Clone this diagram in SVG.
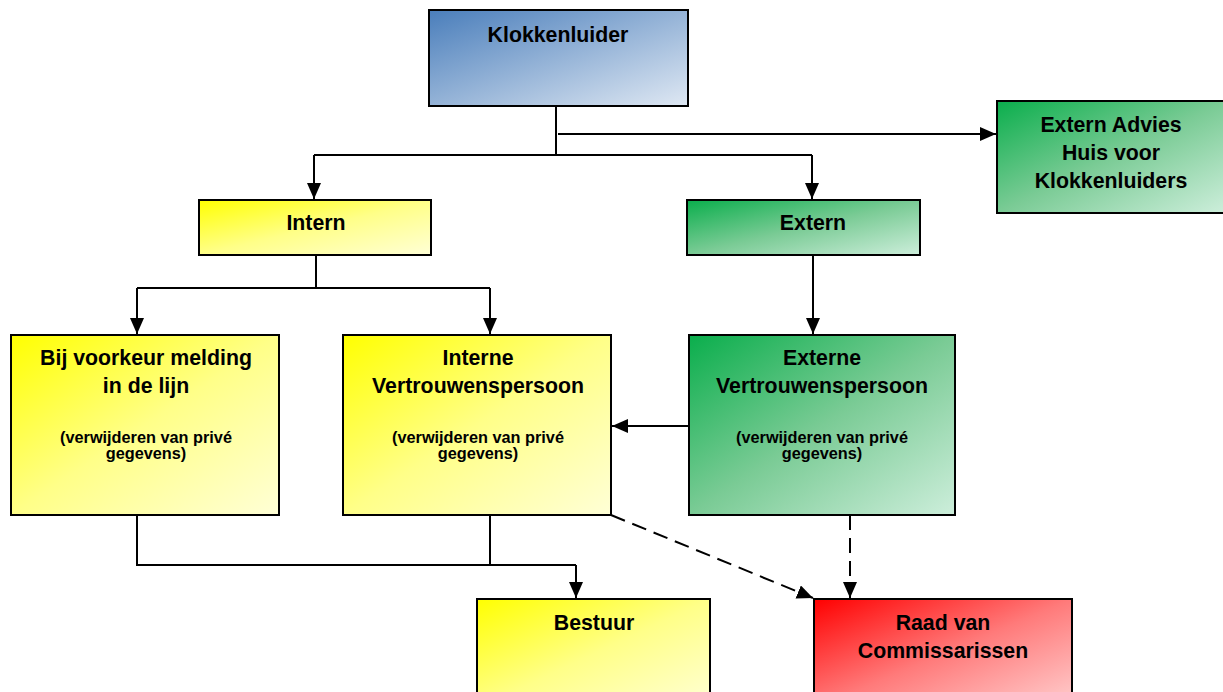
<svg xmlns="http://www.w3.org/2000/svg" width="1223" height="692" viewBox="0 0 1223 692">
<style>
.box{stroke:#000;stroke-width:2}
.lbl{font-family:"Liberation Sans",Arial,sans-serif;font-weight:bold;font-size:21.3px;text-anchor:middle;fill:#000}
.sm{font-family:"Liberation Sans",Arial,sans-serif;font-weight:bold;font-size:16.3px;text-anchor:middle;fill:#000}
.ln{fill:none;stroke:#000;stroke-width:2}
.arr{marker-end:url(#ah)}
.dash{stroke-dasharray:15 8}
</style>
<defs>
<linearGradient id="gBlue" x1="0" y1="0" x2="1" y2="1"><stop offset="0" stop-color="#4a7ebb"/><stop offset="1" stop-color="#dfe8f3"/></linearGradient>
<linearGradient id="gYel" x1="0" y1="0" x2="1" y2="1"><stop offset="0" stop-color="#ffff00"/><stop offset="0.5" stop-color="#ffff88"/><stop offset="1" stop-color="#ffffd6"/></linearGradient>
<linearGradient id="gGrn" x1="0" y1="0" x2="1" y2="1"><stop offset="0" stop-color="#0aae4c"/><stop offset="0.5" stop-color="#7acb95"/><stop offset="1" stop-color="#cdeedb"/></linearGradient>
<linearGradient id="gRed" x1="0" y1="0" x2="1" y2="1"><stop offset="0" stop-color="#ff0000"/><stop offset="0.5" stop-color="#ff7a7a"/><stop offset="1" stop-color="#ffd0d0"/></linearGradient>
<marker id="ah" markerUnits="userSpaceOnUse" markerWidth="18" markerHeight="16" refX="16" refY="7" orient="auto"><path d="M0,0 L16,7 L0,14 z" fill="#000"/></marker>
</defs>
<g id="connectors">
<path class="ln" d="M556,106 V155"/>
<path class="ln" d="M314,155 H812"/>
<path class="ln arr" d="M314,155 V199"/>
<path class="ln arr" d="M812,155 V199"/>
<path class="ln arr" d="M558,134 H996"/>
<path class="ln" d="M316,255 V288"/>
<path class="ln" d="M137,288 H490"/>
<path class="ln arr" d="M137,288 V334"/>
<path class="ln arr" d="M490,288 V334"/>
<path class="ln arr" d="M813,255 V334"/>
<path class="ln arr" d="M689,426 H612"/>
<path class="ln" d="M137,515 V565 H576"/>
<path class="ln" d="M490,515 V565"/>
<path class="ln arr" d="M576,565 V598"/>
<path class="ln dash arr" d="M611,515 L813,598"/>
<path class="ln dash arr" d="M850,515 L850,598"/>
</g>
<g id="klokkenluider">
<rect class="box" x="429" y="10" width="259" height="96" fill="url(#gBlue)"/>
<text class="lbl" x="558" y="42">Klokkenluider</text>
</g>
<g id="extern-advies">
<rect class="box" x="997" y="101" width="228" height="112" fill="url(#gGrn)"/>
<text class="lbl" x="1111" y="132">Extern Advies</text>
<text class="lbl" x="1111" y="160">Huis voor</text>
<text class="lbl" x="1111" y="188">Klokkenluiders</text>
</g>
<g id="intern">
<rect class="box" x="199" y="200" width="232" height="55" fill="url(#gYel)"/>
<text class="lbl" x="316" y="230">Intern</text>
</g>
<g id="extern">
<rect class="box" x="687" y="200" width="233" height="55" fill="url(#gGrn)"/>
<text class="lbl" x="813" y="230">Extern</text>
</g>
<g id="bij-voorkeur">
<rect class="box" x="11" y="335" width="268" height="180" fill="url(#gYel)"/>
<text class="lbl" x="146" y="365">Bij voorkeur melding</text>
<text class="lbl" x="146" y="393">in de lijn</text>
<text class="sm" x="146" y="443">(verwijderen van privé</text>
<text class="sm" x="146" y="459">gegevens)</text>
</g>
<g id="interne-vp">
<rect class="box" x="343" y="335" width="268" height="180" fill="url(#gYel)"/>
<text class="lbl" x="478" y="365">Interne</text>
<text class="lbl" x="478" y="393">Vertrouwenspersoon</text>
<text class="sm" x="478" y="443">(verwijderen van privé</text>
<text class="sm" x="478" y="459">gegevens)</text>
</g>
<g id="externe-vp">
<rect class="box" x="689" y="335" width="266" height="180" fill="url(#gGrn)"/>
<text class="lbl" x="822" y="365">Externe</text>
<text class="lbl" x="822" y="393">Vertrouwenspersoon</text>
<text class="sm" x="822" y="443">(verwijderen van privé</text>
<text class="sm" x="822" y="459">gegevens)</text>
</g>
<g id="bestuur">
<rect class="box" x="477" y="599" width="233" height="110" fill="url(#gYel)"/>
<text class="lbl" x="594" y="630">Bestuur</text>
</g>
<g id="raad">
<rect class="box" x="814" y="599" width="258" height="110" fill="url(#gRed)"/>
<text class="lbl" x="943" y="630">Raad van</text>
<text class="lbl" x="943" y="658">Commissarissen</text>
</g>
</svg>
